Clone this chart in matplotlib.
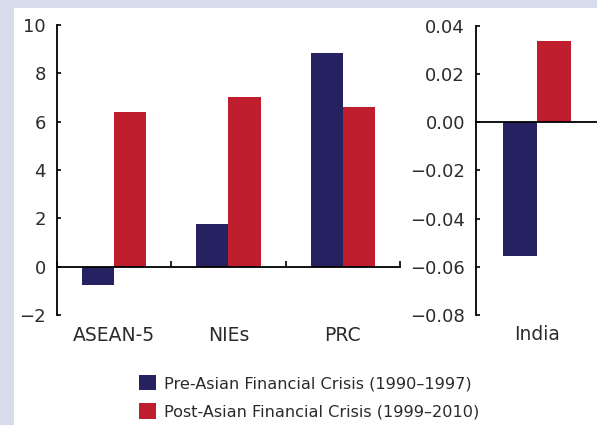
import numpy as np
import matplotlib
matplotlib.use('Agg')
import matplotlib.pyplot as plt
from matplotlib.patches import Rectangle
from matplotlib.ticker import FuncFormatter
import matplotlib.transforms as mtransforms

plt.rcParams['font.family'] = ['DejaVu Sans']

# Data
regions = ['ASEAN-5', 'NIEs', 'PRC']
pre_crisis = [-0.75, 1.77, 8.86]
post_crisis = [6.42, 7.04, 6.60]

india_label = ['India']
india_pre = [-0.0553]
india_post = [0.0338]

legend_labels = ['Pre-Asian Financial Crisis (1990\u20131997)',
                 'Post-Asian Financial Crisis (1999\u20132010)']

BLUE = '#262262'
RED = '#be1e2d'
TEXT = '#2b2b2b'
W, H = 597, 425

fig = plt.figure(figsize=(W / 100, H / 100), dpi=100, facecolor='#d6dce9')
# white panel inside the tinted frame
fig.patches.append(Rectangle((14 / W, 0), 1, 1 - 8 / H, transform=fig.transFigure,
                             facecolor='white', edgecolor='none', zorder=-5))

def style_axis(ax, ymin, ymax):
    ax.set_facecolor('none')
    for s in ['top', 'right']:
        ax.spines[s].set_visible(False)
    ax.spines['bottom'].set_position(('data', 0))
    ax.spines['left'].set_linewidth(1.3)
    ax.spines['bottom'].set_linewidth(1.3)
    ax.set_ylim(ymin, ymax)
    ax.tick_params(axis='y', direction='in', length=3, width=1.2, pad=8,
                   labelsize=13, labelcolor=TEXT)
    ax.tick_params(axis='x', direction='in', length=4, width=1.2, labelbottom=False)

def minus_fmt(fmt):
    return FuncFormatter(lambda v, p: (fmt % v).replace('-', '\u2212'))

bw = 0.28

# left panel
ax1 = fig.add_axes([57 / W, 110 / H, 343 / W, 290 / H])
x = np.arange(len(regions))
b1 = ax1.bar(x - bw / 2, pre_crisis, bw, color=BLUE, label=legend_labels[0], zorder=2)
b2 = ax1.bar(x + bw / 2, post_crisis, bw, color=RED, label=legend_labels[1], zorder=2)
ax1.set_xlim(-0.5, len(regions) - 0.5)
style_axis(ax1, -2, 10)
ax1.set_yticks(np.arange(-2, 11, 2))
ax1.yaxis.set_major_formatter(minus_fmt('%d'))
ax1.set_xticks(np.arange(len(regions) + 1) - 0.5)
trans1 = mtransforms.blended_transform_factory(ax1.transData, ax1.transAxes)
for xi, name in zip(x, regions):
    ax1.text(xi, -0.069, name, transform=trans1, ha='center', va='center',
             fontsize=13.5, color=TEXT)

# right panel
ax2 = fig.add_axes([476 / W, 110 / H, 122 / W, 289 / H])
xi2 = np.arange(len(india_label))
ax2.bar(xi2 - bw / 2, india_pre, bw, color=BLUE, zorder=2)
ax2.bar(xi2 + bw / 2, india_post, bw, color=RED, zorder=2)
ax2.set_xlim(-0.5, 0.5)
style_axis(ax2, -0.08, 0.04)
ax2.set_yticks(np.arange(-0.08, 0.041, 0.02))
ax2.yaxis.set_major_formatter(minus_fmt('%.2f'))
ax2.set_xticks([])
trans2 = mtransforms.blended_transform_factory(ax2.transData, ax2.transAxes)
for xi, name in zip(xi2, india_label):
    ax2.text(xi, -0.069, name, transform=trans2, ha='center', va='center',
             fontsize=13.5, color=TEXT)

leg = fig.legend(handles=[b1, b2], loc='upper left', bbox_to_anchor=(139 / W, 1 - 375 / H),
                 frameon=False, fontsize=11.6, handlelength=1.05, handleheight=1.1,
                 handletextpad=0.5, labelspacing=0.75, borderpad=0, borderaxespad=0)
for t in leg.get_texts():
    t.set_color(TEXT)

plt.savefig('out.png', dpi=100, facecolor=fig.get_facecolor())
plt.close()
